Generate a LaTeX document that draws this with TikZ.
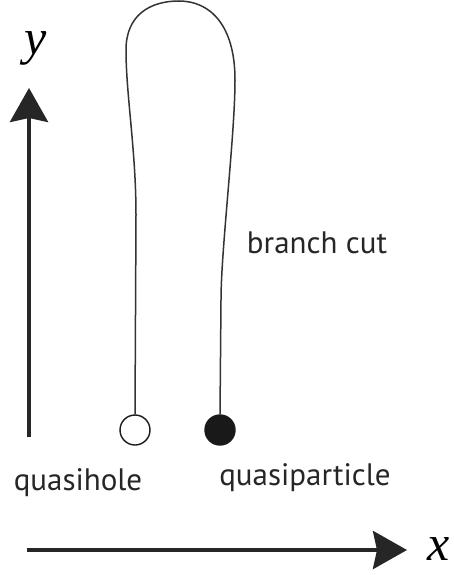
\documentclass[tikz,border=0pt]{standalone}
\usepackage{fontspec}
\setmainfont{PT Sans}
\newfontfamily\axisfont{Liberation Serif}
\usetikzlibrary{arrows.meta, positioning}
\tikzset{
    axis/.style={
        -{Stealth[length=34pt, width=38pt, inset=4pt]}, line width=4pt, draw=black!85
    },
    label/.style={
        font=\fontsize{31}{36}\selectfont, text=black!85, anchor=base, inner sep=0pt
    },
    axislabel/.style={
        font=\axisfont\itshape\fontsize{50}{56}\selectfont, anchor=base, inner sep=0pt
    },
    charge/.style={
        circle, minimum size=30pt, inner sep=0pt, line width=1.4pt, draw=black!90
    },
    cut/.style={
        line width=1.5pt, draw=black!80
    }
}
\begin{document}
\begin{tikzpicture}[x=1pt, y=-1pt]

    \useasboundingbox (0,0) rectangle (453,575);

    % axes
    \coordinate (ybot) at (29,437);
    \coordinate (ytop) at (29,88);
    \coordinate (xleft) at (27,550);
    \coordinate (xright) at (407,550);
    \draw[axis] (ybot) -- (ytop);
    \draw[axis] (xleft) -- (xright);
    \node[axislabel] (ylab) at (36,55)  {y};
    \node[axislabel] (xlab) at (439,560) {x};

    % quasihole and quasiparticle
    \node[charge, fill=white]    (hole)     at (135,430) {};
    \node[charge, fill=black!90] (particle) at (220,430) {};

    % branch cut
    \draw[cut] (hole.north) -- (136,215)
        .. controls (136,150) and (126,95) .. (126,50)
        .. controls (126,15) and (150,1) .. (179,1)
        .. controls (210,1) and (235,25) .. (235,80)
        .. controls (235,135) and (221,250) .. (221,300)
        -- (particle.north);

    \node[label] (cutlab)      at (317,253) {branch cut};
    \node[label] (holelab)     at (78,490)  {quasihole};
    \node[label] (particlelab) at (305,485) {quasiparticle};

\end{tikzpicture}
\end{document}
